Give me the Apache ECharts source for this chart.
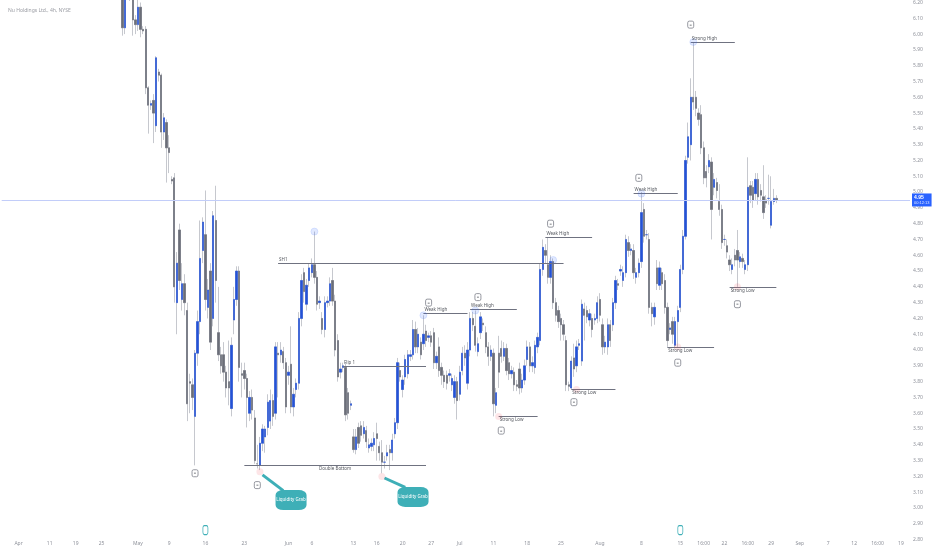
<!DOCTYPE html>
<html>
<head>
<meta charset="utf-8">
<title>Nu Holdings Ltd., 4h, NYSE</title>
<script src="https://cdn.jsdelivr.net/npm/echarts@6/dist/echarts.min.js"></script>
<style>
  html, body { margin: 0; padding: 0; background: #fff; }
  #chart { width: 932px; height: 550px; }
</style>
</head>
<body>
<div id="chart"></div>
<script>
// bar slots on the time axis (4h bars, plus empty future space on the right)
const slotCount = 350
const firstBar = 46

// [open, close, low, high], one row per 4h bar starting at slot firstBar
const candles = [
  [6.30, 6.04, 5.99, 6.34], [6.04, 6.28, 6.00, 6.31], [6.28, 6.33, 6.24, 6.38], [6.33, 6.24, 6.21, 6.36],
  [6.24, 6.09, 5.99, 6.27], [6.09, 6.06, 6.00, 6.12], [6.06, 6.17, 6.02, 6.22], [6.17, 6.03, 5.98, 6.20],
  [6.03, 6.02, 6.00, 6.05], [6.03, 5.66, 5.62, 6.05], [5.66, 5.55, 5.37, 5.67], [5.55, 5.56, 5.52, 5.58],
  [5.58, 5.50, 5.31, 5.62], [5.42, 5.85, 5.38, 5.86], [5.76, 5.74, 5.70, 5.78], [5.74, 5.38, 5.28, 5.75],
  [5.38, 5.47, 5.33, 5.50], [5.44, 5.28, 5.06, 5.46], [5.28, 5.25, 5.12, 5.36], [5.08, 5.07, 5.05, 5.10],
  [5.09, 4.40, 4.30, 5.12], [4.30, 4.55, 4.10, 4.62], [4.76, 4.44, 4.38, 4.80], [4.32, 4.42, 4.25, 4.55],
  [4.42, 4.30, 4.22, 4.48], [4.25, 3.66, 3.55, 4.30], [3.80, 3.79, 3.60, 3.85], [3.78, 3.70, 3.62, 3.82],
  [3.58, 3.98, 3.27, 4.00], [3.98, 4.18, 3.90, 4.25], [4.18, 4.58, 4.10, 4.82], [4.63, 4.81, 4.55, 4.84],
  [4.73, 4.32, 4.25, 5.01], [4.27, 4.38, 4.20, 4.45], [4.50, 4.05, 4.00, 4.55], [4.20, 4.85, 4.15, 4.88],
  [4.82, 4.44, 4.30, 5.04], [4.11, 3.97, 3.93, 4.40], [3.97, 3.90, 3.85, 4.02], [3.97, 3.86, 3.80, 4.05],
  [3.86, 3.76, 3.70, 3.90], [3.80, 3.76, 3.65, 4.06], [3.63, 4.03, 3.58, 4.08], [4.19, 4.32, 4.10, 4.40],
  [4.32, 4.50, 4.28, 4.53], [4.50, 3.89, 3.80, 4.53], [3.85, 3.84, 3.70, 3.92], [3.87, 3.82, 3.75, 3.92],
  [3.82, 3.70, 3.51, 3.85], [3.60, 3.70, 3.55, 3.74], [3.70, 3.62, 3.56, 3.75], [3.57, 3.30, 3.28, 3.62],
  [3.28, 3.28, 3.25, 3.40], [3.27, 3.41, 3.24, 3.45], [3.41, 3.50, 3.36, 3.53], [3.45, 3.50, 3.35, 3.52],
  [3.51, 3.67, 3.46, 3.72], [3.55, 3.68, 3.50, 3.75], [3.68, 3.58, 3.52, 3.72], [3.60, 4.02, 3.56, 4.05],
  [3.98, 3.97, 3.70, 4.05], [3.97, 4.00, 3.92, 4.05], [3.99, 3.92, 3.88, 4.02], [3.92, 3.64, 3.60, 3.95],
  [3.84, 3.86, 3.78, 3.90], [3.91, 3.64, 3.60, 4.15], [3.64, 3.72, 3.58, 3.76], [3.75, 3.79, 3.70, 3.82],
  [3.79, 4.20, 3.75, 4.24], [4.20, 4.44, 4.15, 4.48], [4.49, 4.37, 4.30, 4.52], [4.29, 4.41, 4.25, 4.45],
  [4.44, 4.52, 4.40, 4.55], [4.49, 4.54, 4.46, 4.58], [4.54, 4.46, 4.42, 4.75], [4.46, 4.29, 4.25, 4.50],
  [4.30, 4.31, 4.26, 4.34], [4.20, 4.13, 4.10, 4.24], [4.13, 4.30, 4.08, 4.34], [4.30, 4.31, 4.27, 4.34],
  [4.31, 4.42, 4.28, 4.46], [4.44, 4.31, 4.28, 4.52], [4.31, 4.00, 3.96, 4.35], [4.06, 3.83, 3.80, 4.10],
  [3.86, 3.88, 3.82, 3.92], [3.89, 3.90, 3.86, 3.92], [3.89, 3.59, 3.55, 3.92], [3.73, 3.60, 3.56, 3.76],
  [3.65, 3.66, 3.62, 3.68], [3.45, 3.37, 3.35, 3.50], [3.37, 3.45, 3.34, 3.50], [3.51, 3.41, 3.38, 3.54],
  [3.52, 3.46, 3.42, 3.55], [3.47, 3.51, 3.44, 3.55], [3.49, 3.42, 3.38, 3.52], [3.38, 3.40, 3.35, 3.44],
  [3.39, 3.41, 3.36, 3.44], [3.40, 3.44, 3.36, 3.48], [3.47, 3.44, 3.30, 3.54], [3.39, 3.35, 3.30, 3.42],
  [3.35, 3.29, 3.22, 3.43], [3.29, 3.29, 3.25, 3.33], [3.33, 3.35, 3.30, 3.40], [3.37, 3.35, 3.24, 3.40],
  [3.35, 3.43, 3.30, 3.47], [3.47, 3.54, 3.44, 3.57], [3.54, 3.92, 3.50, 3.95], [3.87, 3.83, 3.80, 3.92],
  [3.75, 3.81, 3.70, 3.84], [3.83, 3.94, 3.78, 3.97], [3.85, 3.97, 3.82, 4.00], [3.96, 3.97, 3.93, 4.00],
  [3.97, 4.13, 3.94, 4.19], [4.13, 4.02, 3.98, 4.18], [4.02, 4.10, 3.98, 4.14], [4.05, 3.97, 3.94, 4.08],
  [4.04, 4.10, 4.00, 4.22], [4.12, 4.06, 4.02, 4.16], [4.08, 4.09, 4.05, 4.11], [4.09, 4.05, 4.02, 4.12],
  [4.11, 3.92, 3.88, 4.14], [3.92, 3.96, 3.88, 3.99], [4.02, 3.87, 3.83, 4.08], [3.89, 3.84, 3.78, 3.92],
  [3.84, 3.80, 3.76, 3.87], [3.84, 3.79, 3.75, 3.87], [3.84, 3.85, 3.80, 3.88], [3.78, 3.82, 3.74, 3.85],
  [3.70, 3.80, 3.66, 3.84], [3.80, 3.68, 3.56, 3.83], [3.72, 3.86, 3.68, 3.90], [3.87, 3.98, 3.84, 4.02],
  [3.98, 3.95, 3.90, 4.03], [3.79, 4.00, 3.75, 4.05], [4.00, 4.20, 3.96, 4.24], [4.20, 4.16, 4.12, 4.24],
  [4.15, 4.03, 3.99, 4.25], [3.99, 4.04, 3.96, 4.08], [4.11, 4.21, 4.07, 4.24], [4.17, 4.16, 4.12, 4.20],
  [4.11, 4.02, 3.98, 4.15], [4.02, 3.96, 3.90, 4.05], [3.96, 4.00, 3.93, 4.03], [3.98, 3.66, 3.58, 4.01],
  [3.65, 3.73, 3.60, 3.76], [3.98, 3.86, 3.76, 4.09], [4.01, 3.96, 3.92, 4.06], [3.96, 4.01, 3.93, 4.05],
  [4.01, 3.87, 3.84, 4.04], [3.92, 3.85, 3.81, 3.95], [3.85, 3.87, 3.82, 3.90], [3.86, 3.78, 3.74, 3.89],
  [3.78, 3.77, 3.74, 3.81], [3.88, 3.76, 3.72, 3.92], [3.76, 3.81, 3.73, 3.85], [3.81, 3.90, 3.78, 3.94],
  [3.94, 4.02, 3.90, 4.06], [4.02, 3.90, 3.86, 4.05], [3.90, 3.92, 3.86, 3.96], [3.89, 4.03, 3.85, 4.06],
  [4.02, 4.08, 3.98, 4.11], [4.06, 4.51, 4.03, 4.55], [4.51, 4.65, 4.47, 4.70], [4.63, 4.60, 4.55, 4.67],
  [4.54, 4.46, 4.42, 4.71], [4.46, 4.56, 4.42, 4.60], [4.56, 4.30, 4.26, 4.58], [4.30, 4.22, 4.18, 4.33],
  [4.25, 4.18, 4.14, 4.28], [4.20, 4.16, 4.06, 4.23], [4.16, 4.10, 4.06, 4.19], [4.06, 3.78, 3.74, 4.09],
  [3.78, 3.77, 3.74, 3.80], [3.76, 3.93, 3.75, 3.96], [3.95, 3.88, 3.83, 4.04], [3.90, 4.02, 3.86, 4.06],
  [4.03, 4.04, 4.00, 4.07], [3.93, 4.29, 3.90, 4.32], [4.26, 4.22, 4.06, 4.30], [4.25, 4.21, 4.17, 4.28],
  [4.19, 4.23, 4.15, 4.26], [4.20, 4.13, 4.08, 4.23], [4.19, 4.20, 4.16, 4.23], [4.20, 4.30, 4.17, 4.34],
  [4.32, 4.22, 4.18, 4.36], [4.16, 4.02, 3.97, 4.20], [4.02, 4.05, 3.98, 4.09], [4.02, 4.16, 3.97, 4.20],
  [4.16, 4.06, 4.02, 4.19], [4.16, 4.30, 4.12, 4.33], [4.30, 4.44, 4.26, 4.47], [4.42, 4.41, 4.38, 4.45],
  [4.50, 4.51, 4.47, 4.54], [4.44, 4.49, 4.40, 4.53], [4.49, 4.70, 4.46, 4.73], [4.68, 4.63, 4.59, 4.72],
  [4.63, 4.64, 4.60, 4.67], [4.63, 4.49, 4.45, 4.67], [4.46, 4.49, 4.42, 4.52], [4.49, 4.55, 4.46, 4.58],
  [4.56, 4.87, 4.52, 5.00], [4.89, 4.72, 4.68, 4.93], [4.73, 4.73, 4.70, 4.76], [4.70, 4.27, 4.23, 4.74],
  [4.27, 4.23, 4.15, 4.30], [4.21, 4.27, 4.16, 4.30], [4.52, 4.42, 4.38, 4.57], [4.41, 4.52, 4.38, 4.56],
  [4.49, 4.42, 4.38, 4.52], [4.44, 4.27, 4.23, 4.48], [4.27, 4.06, 4.02, 4.30], [4.13, 4.14, 4.10, 4.17],
  [4.18, 4.10, 4.04, 4.21], [4.03, 4.18, 4.01, 4.21], [4.18, 4.25, 4.02, 4.28], [4.27, 4.51, 4.24, 4.54],
  [4.51, 4.72, 4.48, 4.76], [4.72, 5.20, 4.70, 5.23], [5.22, 5.35, 5.18, 5.44], [5.30, 5.60, 5.20, 5.72],
  [5.60, 5.57, 5.52, 5.95], [5.60, 5.53, 5.48, 5.64], [5.50, 5.46, 5.42, 5.53], [5.49, 5.28, 5.24, 5.55],
  [5.28, 5.09, 5.05, 5.32], [5.13, 5.09, 5.03, 5.17], [5.16, 5.20, 5.12, 5.24], [5.19, 4.89, 4.70, 5.22],
  [5.03, 5.08, 4.98, 5.12], [5.06, 5.01, 4.96, 5.09], [4.94, 4.89, 4.85, 5.05], [4.89, 4.68, 4.64, 4.92],
  [4.70, 4.70, 4.66, 4.73], [4.66, 4.62, 4.58, 4.70], [4.57, 4.54, 4.50, 4.60], [4.51, 4.54, 4.48, 4.58],
  [4.60, 4.57, 4.53, 4.64], [4.63, 4.57, 4.40, 4.76], [4.56, 4.59, 4.52, 4.62], [4.58, 4.56, 4.52, 4.61],
  [4.51, 4.54, 4.48, 4.57], [4.54, 5.03, 4.50, 5.22], [5.04, 4.98, 4.93, 5.07], [5.03, 4.95, 4.90, 5.07],
  [4.99, 5.08, 4.95, 5.12], [5.08, 4.97, 4.92, 5.12], [5.01, 4.98, 4.94, 5.05], [4.97, 4.87, 4.83, 5.17],
  [4.95, 4.93, 4.90, 4.98], [4.96, 4.96, 4.92, 5.11], [4.79, 4.94, 4.77, 5.10], [4.94, 4.96, 4.92, 5.02],
  [4.96, 4.95, 4.93, 4.98]
]

// time axis labels and the bar slot each one sits on
const tickLabels = ['Apr', '11', '19', '25', 'May', '9', '16', '23', 'Jun', '6', '13', '16', '20', '27', 'Jul',
  '11', '18', '25', 'Aug', '8', '15', '16:00', '22', '16:00', '29', 'Sep', '7', '12', '16:00', '19']
const tickSlots = [6, 18, 28, 38, 52, 64, 78, 93, 110, 119, 135, 144, 154, 165, 176,
  189, 202, 215, 230, 246, 261, 270, 278, 287, 296, 307, 318, 328, 337, 346]

const lastPrice = 4.95
const countdown = '00:12:13'

// structure levels drawn on the chart: [text, price, from slot, to slot, label side]
const levels = [
  ['SH1', 4.55, 106, 216, 'insideStartTop'],
  ['Double Bottom', 3.27, 93, 163, 'insideMiddleBottom'],
  ['Flip 1', 3.90, 131, 163, 'insideStartTop'],
  ['Weak High', 4.23, 162, 179, 'insideStartTop'],
  ['Weak High', 4.26, 180, 198, 'insideStartTop'],
  ['Strong Low', 3.58, 191, 206, 'insideStartBottom'],
  ['Weak High', 4.715, 209, 227, 'insideStartTop'],
  ['Strong Low', 3.75, 219, 236, 'insideStartBottom'],
  ['Weak High', 4.99, 243, 260, 'insideStartTop'],
  ['Strong Low', 4.02, 256, 274, 'insideStartBottom'],
  ['Strong High', 5.95, 265, 282, 'insideStartTop'],
  ['Strong Low', 4.40, 280, 298, 'insideStartBottom']
]
// small marker boxes next to the levels: [slot, price]
const markerBoxes = [[164, 4.30], [183, 4.335], [211, 4.80], [245, 5.09], [265, 6.06],
  [192, 3.49], [220, 3.67], [260, 3.92], [283, 4.29], [74, 3.22], [98, 3.145]]
// touched highs and swept lows
const highDots = [[120, 4.75], [162, 4.22], [182, 4.25], [212, 4.57], [246, 4.99], [266, 5.95]]
const lowDots = [[99, 3.23], [146, 3.20], [191, 3.58], [221, 3.75], [260, 4.02], [283, 4.40]]
// "Liquidity Grab" callouts: [box slot, box price, swept slot, swept price]
const grabs = [[111, 3.05, 100, 3.21], [158, 3.07, 147, 3.19]]
// earnings flags on the bottom edge
const earnings = [[78, 2.86], [261, 2.86]]

const categories = Array.from({ length: slotCount }, () => '')
tickSlots.forEach((s, k) => { categories[s] = tickLabels[k] })

const fullRows = candles.map((c, k) => [firstBar + k, c[0], c[1], c[2], c[3]])
const bodyRows = candles.map((c, k) => [firstBar + k, c[0], c[1], Math.min(c[0], c[1]), Math.max(c[0], c[1])])

const TEAL = '#3eafb7'
const LINE = '#6f7280'

const chart = echarts.init(document.getElementById('chart'))

chart.setOption({
  animation: false,
  backgroundColor: '#ffffff',
  title: {
    text: 'Nu Holdings Ltd., 4h, NYSE',
    left: 3,
    top: 3,
    textStyle: { fontSize: 5, color: '#9a9ca3', fontWeight: 'normal', fontFamily: 'Noto Sans' }
  },
  grid: { left: 0, right: 22, top: 0, bottom: 10.4 },
  xAxis: {
    type: 'category',
    data: categories,
    boundaryGap: true,
    axisLine: { show: false },
    axisTick: { show: false },
    splitLine: { show: false },
    axisLabel: { interval: 0, fontSize: 5, color: '#8f929b', margin: 1, fontFamily: 'Noto Sans' }
  },
  yAxis: {
    type: 'value',
    position: 'right',
    min: 2.8,
    max: 6.215,
    interval: 0.1,
    axisLine: { show: false },
    axisTick: { show: false },
    splitLine: { show: false },
    axisLabel: {
      fontSize: 5, color: '#8f929b', margin: 3, fontFamily: 'Noto Sans',
      showMaxLabel: false,
      formatter: v => v.toFixed(2)
    }
  },
  series: [
    {
      // wicks
      type: 'candlestick',
      data: fullRows,
      encode: { x: 0, y: [1, 2, 3, 4] },
      barWidth: '70%',
      itemStyle: { color: '#c6c8ce', color0: '#c6c8ce', borderColor: '#c6c8ce', borderColor0: '#c6c8ce', borderWidth: 1 },
      markLine: {
        silent: true,
        symbol: ['none', 'none'],
        data: [
          {
            yAxis: lastPrice,
            lineStyle: { color: '#c2cdf9', width: 1, type: 'solid' },
            label: {
              position: 'end',
              distance: 2,
              backgroundColor: '#2962ff',
              padding: [1, 2, 1, 2],
              formatter: `{p|${lastPrice.toFixed(2)}}\n{t|${countdown}}`,
              rich: {
                p: { color: '#fff', fontSize: 5, fontWeight: 'bold', lineHeight: 6 },
                t: { color: '#dfe6ff', fontSize: 4, lineHeight: 5 }
              }
            }
          },
          ...grabs.map(([bx, by, sx, sy]) => [
            { coord: [sx, sy], lineStyle: { color: TEAL, width: 3, type: 'solid' }, label: { show: false } },
            { coord: [bx - 3, by + 0.06] }
          ])
        ]
      }
    },
    {
      // bodies
      type: 'candlestick',
      data: bodyRows,
      encode: { x: 0, y: [1, 2, 3, 4] },
      barWidth: '70%',
      itemStyle: { color: '#2352d8', color0: '#6b6e78', borderColor: '#2352d8', borderColor0: '#6b6e78', borderWidth: 0.6 },
      markLine: {
        silent: true,
        symbol: ['none', 'none'],
        lineStyle: { color: LINE, width: 1, type: 'solid' },
        label: { fontSize: 4.5, color: '#55585f', distance: 1, fontFamily: 'Noto Sans' },
        data: levels.map(([name, price, a, b, pos]) => [
          { coord: [a, price], label: { formatter: name, position: pos } },
          { coord: [b, price] }
        ])
      },
      markPoint: {
        silent: true,
        data: [
          ...highDots.map(c => ({
            coord: c, symbol: 'circle', symbolSize: 7,
            itemStyle: { color: 'rgba(41,98,255,0.14)', borderColor: 'rgba(41,98,255,0.25)', borderWidth: 0.5 },
            label: { show: false }
          })),
          ...lowDots.map(c => ({
            coord: c, symbol: 'circle', symbolSize: 7,
            itemStyle: { color: 'rgba(242,54,69,0.13)' },
            label: { show: false }
          })),
          ...markerBoxes.map(c => ({
            coord: c, symbol: 'roundRect', symbolSize: [6, 7],
            itemStyle: { color: '#ffffff', borderColor: '#7d8089', borderWidth: 0.8 },
            label: { show: true, formatter: '=', fontSize: 4, color: '#55585f', position: 'inside' }
          })),
          ...grabs.map(([bx, by]) => ({
            coord: [bx, by], symbol: 'roundRect', symbolSize: [31, 20],
            itemStyle: { color: TEAL },
            label: { show: true, formatter: 'Liquidity Grab', fontSize: 4.5, color: '#ffffff', position: 'inside', fontFamily: 'Noto Sans' }
          })),
          ...earnings.map(c => ({
            coord: c, symbol: 'roundRect', symbolSize: [5, 9],
            itemStyle: { color: '#ffffff', borderColor: TEAL, borderWidth: 1 },
            label: { show: false }
          }))
        ]
      }
    }
  ]
})
</script>
</body>
</html>
